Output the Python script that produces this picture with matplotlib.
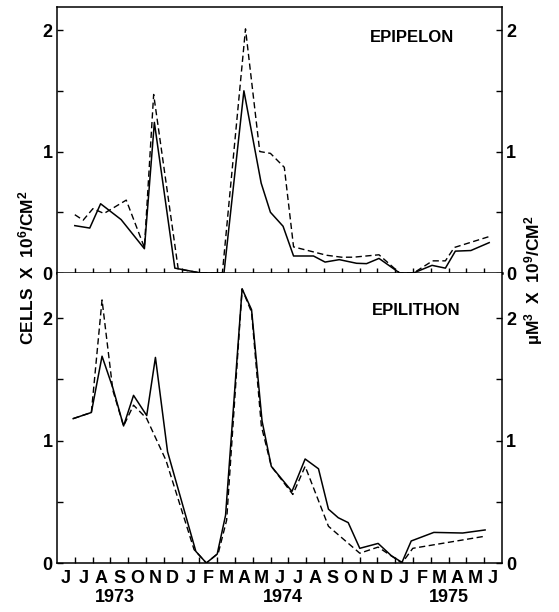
import matplotlib
matplotlib.use("Agg")
import matplotlib.pyplot as plt
from matplotlib.transforms import blended_transform_factory

plt.rcParams['font.family'] = ['Liberation Sans', 'DejaVu Sans']
plt.rcParams['font.weight'] = 'bold'
plt.rcParams['mathtext.fontset'] = 'custom'
plt.rcParams['mathtext.rm'] = 'Liberation Sans:bold'
plt.rcParams['mathtext.bf'] = 'Liberation Sans:bold'
plt.rcParams['mathtext.default'] = 'rm'

# x = months since 1 June 1973
month_labels = ["J", "J", "A", "S", "O", "N", "D", "J", "F", "M", "A", "M",
                "J", "J", "A", "S", "O", "N", "D", "J", "F", "M", "A", "M", "J"]
year_labels = ["1973", "1974", "1975"]
year_pos = [3.25, 12.7, 22.0]

# EPIPELON (top)
epi_cells_x = [1.0, 1.84, 2.45, 3.6, 4.91, 5.47, 6.62, 8.08, 9.38, 10.5, 11.47, 11.99,
               12.7, 13.29, 14.41, 15.06, 15.86, 16.83, 17.39, 18.09, 19.25, 20.03,
               21.07, 21.82, 22.38, 23.25, 24.28]
epi_cells_y = [0.39, 0.37, 0.57, 0.44, 0.20, 1.24, 0.04, 0.0, 0.0, 1.50, 0.74, 0.50,
               0.385, 0.14, 0.14, 0.09, 0.11, 0.08, 0.077, 0.12, 0.0, 0.0,
               0.063, 0.04, 0.18, 0.185, 0.25]
epi_vol_x = [1.0, 1.47, 2.02, 2.64, 3.89, 4.91, 5.43, 6.81, 8.08, 9.29, 10.59, 11.39,
             11.99, 12.77, 13.29, 15.15, 15.99, 16.64, 18.09, 19.25, 20.03, 21.1,
             21.82, 22.32, 24.28]
epi_vol_y = [0.48, 0.435, 0.53, 0.49, 0.60, 0.21, 1.47, 0.033, 0.0, 0.0, 2.01, 1.0,
             0.985, 0.87, 0.215, 0.146, 0.13, 0.13, 0.15, 0.0, 0.0, 0.10,
             0.10, 0.21, 0.30]

# EPILITHON (bottom)
lit_cells_x = [0.91, 1.93, 2.53, 3.14, 3.74, 4.30, 5.04, 5.53, 6.21, 7.8, 8.39, 9.0,
               9.47, 10.4, 10.93, 11.52, 12.04, 13.2, 13.94, 14.69, 15.25, 15.8,
               16.36, 17.01, 18.04, 18.78, 19.38, 19.9, 21.17, 22.79, 24.05]
lit_cells_y = [1.18, 1.23, 1.69, 1.43, 1.12, 1.37, 1.205, 1.68, 0.91, 0.095, 0.0, 0.073,
               0.39, 2.24, 2.07, 1.16, 0.79, 0.585, 0.85, 0.77, 0.44, 0.37,
               0.33, 0.12, 0.16, 0.06, 0.005, 0.18, 0.25, 0.245, 0.27]
lit_vol_x = [0.91, 1.93, 2.53, 3.14, 3.74, 4.30, 5.04, 6.12, 7.7, 8.39, 9.06, 9.53,
             10.4, 10.93, 11.48, 12.04, 13.25, 13.94, 15.25, 17.01, 18.04, 19.38,
             19.99, 24.09]
lit_vol_y = [1.18, 1.23, 2.15, 1.41, 1.12, 1.29, 1.18, 0.84, 0.11, 0.0, 0.08, 0.35,
             2.24, 2.05, 1.12, 0.79, 0.56, 0.79, 0.30, 0.08, 0.13, 0.0,
             0.12, 0.22]

W, H = 559, 612
fig = plt.figure(figsize=(W / 100, H / 100), dpi=100)
ax1 = fig.add_axes([57 / W, (H - 273) / H, 445 / W, 266 / H])
ax2 = fig.add_axes([57 / W, (H - 563) / H, 445 / W, 290 / H])

solid_kw = dict(color='black', lw=1.1, linestyle='-')
dash_kw = dict(color='black', lw=1.0, linestyle=(0, (4.5, 2.5)))

ax1.plot(epi_cells_x, epi_cells_y, **solid_kw)
ax1.plot(epi_vol_x, epi_vol_y, **dash_kw)
ax2.plot(lit_cells_x, lit_cells_y, **solid_kw)
ax2.plot(lit_vol_x, lit_vol_y, **dash_kw)

ax1.set_ylim(0, 2.19)
ax2.set_ylim(0, 2.37)

for ax in (ax1, ax2):
    ax.set_xlim(0, 25)
    ax.set_yticks([0, 0.5, 1, 1.5, 2])
    ax.set_yticklabels(['0', '', '1', '', '2'])
    ax.tick_params(axis='y', direction='in', length=4, width=1, left=True, right=True,
                   labelleft=True, labelright=True, labelsize=13, pad=3)
    ax.set_xticks(range(1, 25))
    ax.set_xticklabels([])
    for s in ax.spines.values():
        s.set_linewidth(1.1)

ax1.spines['bottom'].set_linewidth(1.8)
ax2.spines['top'].set_visible(False)
ax1.tick_params(axis='x', direction='inout', length=7, width=1)
ax2.tick_params(axis='x', direction='in', length=4, width=1)

ax2.set_xticks([m + 0.5 for m in range(len(month_labels))], minor=True)
ax2.set_xticklabels(month_labels, minor=True)
ax2.tick_params(axis='x', which='minor', length=0, labelsize=13, pad=5)

trans = blended_transform_factory(ax2.transData, ax2.transAxes)
for lbl, pos in zip(year_labels, year_pos):
    ax2.text(pos, -0.12, lbl, transform=trans, ha='center', va='center', fontsize=13)

ax1.text(0.798, 0.887, "EPIPELON", transform=ax1.transAxes, ha='center', va='center',
         fontsize=12)
ax2.text(0.807, 0.872, "EPILITHON", transform=ax2.transAxes, ha='center', va='center',
         fontsize=12)

fig.text(26 / W, 1 - 268 / H, r"CELLS  X  10$^{6}$/CM$^{2}$", rotation=90,
         ha='center', va='center', fontsize=12.5)
fig.text(534 / W, 1 - 280 / H, "\u00b5M$^{3}$  X  10$^{9}$/CM$^{2}$", rotation=90,
         ha='center', va='center', fontsize=12.5)

fig.savefig("out.png", dpi=100)
